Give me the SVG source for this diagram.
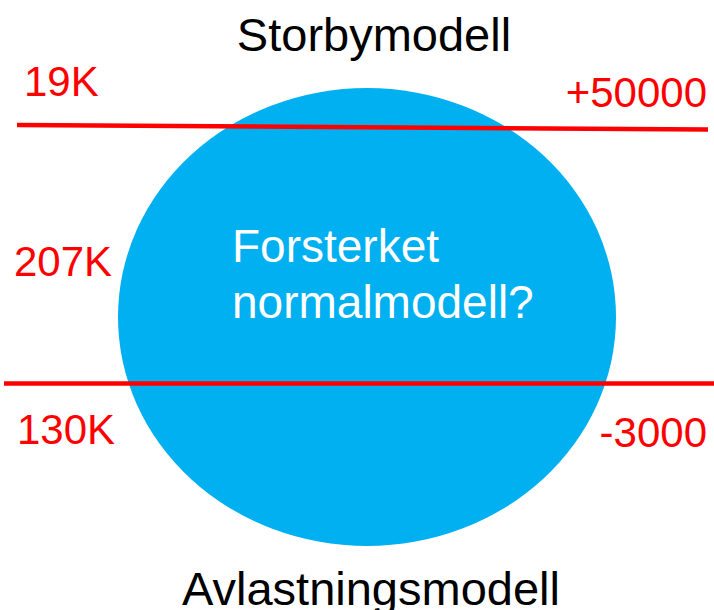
<svg xmlns="http://www.w3.org/2000/svg" width="714" height="610" viewBox="0 0 714 610">
<style>
text{font-family:"Liberation Sans",Arial,sans-serif}
.blk{fill:#000;font-size:47px}
.red{fill:#ff0000;font-size:42px}
.wht{fill:#fff;font-size:46px}
.ln{stroke:#ff0000;stroke-width:4.5;fill:none}
</style>
<rect width="714" height="610" fill="#fff"/>
<g id="ellipse-node">
<ellipse cx="367" cy="317" rx="249" ry="229" fill="#00b0f0"/>
<text class="wht" x="232" y="262">Forsterket</text>
<text class="wht" x="232" y="318">normalmodell?</text>
</g>
<g id="connectors">
<line class="ln" x1="17" y1="125" x2="708" y2="129.5"/>
<line class="ln" x1="4" y1="383.5" x2="714" y2="383.5"/>
</g>
<g id="labels">
<text class="blk" x="374" y="51" text-anchor="middle">Storbymodell</text>
<text class="blk" x="371" y="605" text-anchor="middle">Avlastningsmodell</text>
<text class="red" x="24" y="96">19K</text>
<text class="red" x="707" y="107" text-anchor="end">+50000</text>
<text class="red" x="14" y="276">207K</text>
<text class="red" x="17" y="444">130K</text>
<text class="red" x="707" y="447" text-anchor="end">-3000</text>
</g>
</svg>
